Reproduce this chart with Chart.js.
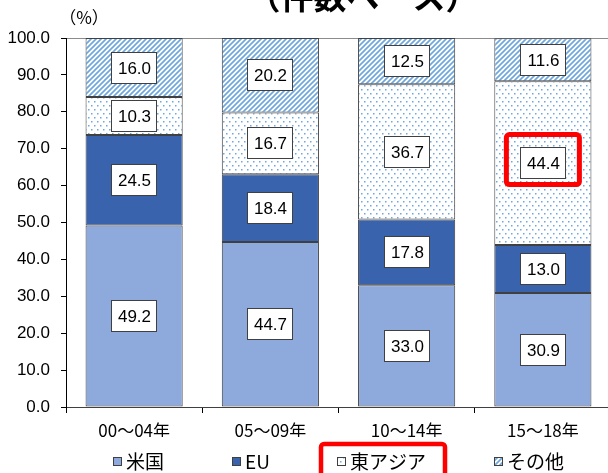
<!DOCTYPE html>
<html>
<head>
<meta charset="utf-8">
<script src="https://cdn.jsdelivr.net/npm/chart.js@4.4.0/dist/chart.umd.min.js"></script>
<style>
  html, body { margin: 0; padding: 0; background: #fff; overflow: hidden; }
  #wrap { position: relative; width: 612px; height: 473px; }
</style>
</head>
<body>
<div id="wrap"><canvas id="shareChart"></canvas></div>
<script>
// 期間
const periods = ['00～04年', '05～09年', '10～14年', '15～18年'];
// 地域別シェア (%)
const seriesNames = ['米国', 'EU', '東アジア', 'その他'];
const usShare = [49.2, 44.7, 33.0, 30.9];
const euShare = [24.5, 18.4, 17.8, 13.0];
const eastAsiaShare = [10.3, 16.7, 36.7, 44.4];
const otherShare = [16.0, 20.2, 12.5, 11.6];
// 縦軸の目盛り
const yTickValues = [0, 10, 20, 30, 40, 50, 60, 70, 80, 90, 100];

// 斜線パターン (その他)
function makeStripes() {
    const s = 5;
    const c = document.createElement('canvas');
    c.width = s; c.height = s;
    const g = c.getContext('2d');
    g.fillStyle = '#fff';
    g.fillRect(0, 0, s, s);
    g.strokeStyle = '#6fa7dd';
    g.lineWidth = 1.7;
    g.beginPath();
    g.moveTo(0, s); g.lineTo(s, 0);
    g.moveTo(-1, 1); g.lineTo(1, -1);
    g.moveTo(s - 1, s + 1); g.lineTo(s + 1, s - 1);
    g.stroke();
    return g.createPattern(c, 'repeat');
}

// ドットパターン (東アジア)
function makeDots() {
    const c = document.createElement('canvas');
    c.width = 6; c.height = 8;
    const g = c.getContext('2d');
    g.fillStyle = '#fff';
    g.fillRect(0, 0, 6, 8);
    g.fillStyle = '#6ea6de';
    g.fillRect(1, 1, 1.5, 1.5);
    g.fillRect(4, 5, 1.5, 1.5);
    return g.createPattern(c, 'repeat');
}

const shareLabels = {
    id: 'shareLabels',
    afterDatasetsDraw(chart) {
        const ctx = chart.ctx;
        ctx.save();
        ctx.font = '17px "Liberation Sans", Arial, sans-serif';
        ctx.textAlign = 'center';
        ctx.textBaseline = 'middle';
        chart.data.datasets.forEach((ds, i) => {
            chart.getDatasetMeta(i).data.forEach((bar, j) => {
                const cx = Math.round(bar.x);
                const cy = Math.round((bar.y + bar.base) / 2);
                ctx.fillStyle = '#fff';
                ctx.fillRect(cx - 22, cy - 15, 45, 31);
                ctx.strokeStyle = '#404040';
                ctx.lineWidth = 1;
                ctx.strokeRect(cx - 22.5, cy - 15.5, 45, 31);
                ctx.fillStyle = '#000';
                ctx.fillText(ds.data[j].toFixed(1), cx + 0.5, cy + 1);
            });
        });

        // 東アジア 15～18年 を赤枠で強調
        const hl = chart.getDatasetMeta(2).data[3];
        const hx = hl.x, hy = (hl.y + hl.base) / 2;
        ctx.strokeStyle = '#ff0000';
        ctx.lineWidth = 5;
        ctx.beginPath();
        ctx.roundRect(hx - 36.5, hy - 28.5, 73, 50, 3);
        ctx.stroke();
        ctx.restore();
    },
    afterDraw(chart) {
        const ctx = chart.ctx;
        const area = chart.chartArea;
        ctx.save();

        // タイトル (上半分は切れている)
        ctx.fillStyle = '#000';
        ctx.font = 'bold 33px "Noto Sans CJK JP", sans-serif';
        ctx.textAlign = 'center';
        ctx.textBaseline = 'alphabetic';
        ctx.fillText('（件数ベース）', 363, 9);

        // 単位
        ctx.font = '17px "Noto Sans CJK JP", sans-serif';
        ctx.textBaseline = 'middle';
        ctx.fillText('（%）', 84, 18);

        // 凡例
        ctx.font = '19px "Noto Sans CJK JP", sans-serif';
        ctx.textAlign = 'left';
        const box = 9, textGap = 4, gap = 68, ly = 462;
        const items = chart.data.datasets.map(ds => ({
            ds: ds,
            w: box + textGap + ctx.measureText(ds.label).width
        }));
        const total = items.reduce((s, it) => s + it.w, 0) + gap * (items.length - 1);
        let x = (area.left + area.right) / 2 - total / 2;
        items.forEach((it, i) => {
            const bx = Math.round(x);
            ctx.fillStyle = it.ds.backgroundColor;
            ctx.fillRect(bx, ly - 5, box, box);
            ctx.strokeStyle = '#404040';
            ctx.lineWidth = 1;
            ctx.strokeRect(bx + 0.5, ly - 4.5, box - 1, box - 1);
            ctx.fillStyle = '#000';
            ctx.fillText(it.ds.label, bx + box + textGap, ly);
            if (i === 2) {
                ctx.strokeStyle = '#ff0000';
                ctx.lineWidth = 4.5;
                ctx.beginPath();
                ctx.roundRect(bx - 16, 444, it.w + 35, 60, 3);
                ctx.stroke();
            }
            x += it.w + gap;
        });
        ctx.restore();
    }
};

const ctx = document.getElementById('shareChart').getContext('2d');
new Chart(ctx, {
    type: 'bar',
    data: {
        labels: periods,
        datasets: [
            { label: seriesNames[0], data: usShare, backgroundColor: '#8eaadc' },
            { label: seriesNames[1], data: euShare, backgroundColor: '#3a63ad' },
            { label: seriesNames[2], data: eastAsiaShare, backgroundColor: makeDots() },
            { label: seriesNames[3], data: otherShare, backgroundColor: makeStripes() }
        ]
    },
    options: {
        responsive: true,
        maintainAspectRatio: false,
        animation: false,
        layout: { padding: { top: 38, right: 1, bottom: 36, left: 0 } },
        datasets: {
            bar: {
                categoryPercentage: 1,
                barPercentage: 0.713,
                borderColor: '#404040',
                borderWidth: 1,
                borderSkipped: false
            }
        },
        plugins: {
            legend: { display: false },
            tooltip: { enabled: false }
        },
        scales: {
            x: {
                stacked: true,
                grid: { drawOnChartArea: false, tickLength: 6, color: '#000', offset: true },
                border: { color: '#404040' },
                ticks: {
                    color: '#000',
                    font: { family: '"Noto Sans CJK JP"', size: 17 },
                    padding: 7,
                    maxRotation: 0
                },
                afterFit: s => { s.height = 30; }
            },
            y: {
                stacked: true,
                min: 0,
                max: 100,
                afterBuildTicks: s => { s.ticks = yTickValues.map(v => ({ value: v })); },
                grid: {
                    color: c => (c.tick && c.tick.value === 100) ? '#8c8c8c' : 'rgba(0,0,0,0)',
                    tickColor: '#000',
                    tickLength: 5
                },
                border: { color: '#000' },
                ticks: {
                    color: '#000',
                    font: { family: '"Liberation Sans", Arial', size: 17 },
                    padding: 11,
                    callback: v => v.toFixed(1)
                },
                afterFit: s => { s.width = 66; }
            }
        }
    },
    plugins: [shareLabels]
});
</script>
</body>
</html>
